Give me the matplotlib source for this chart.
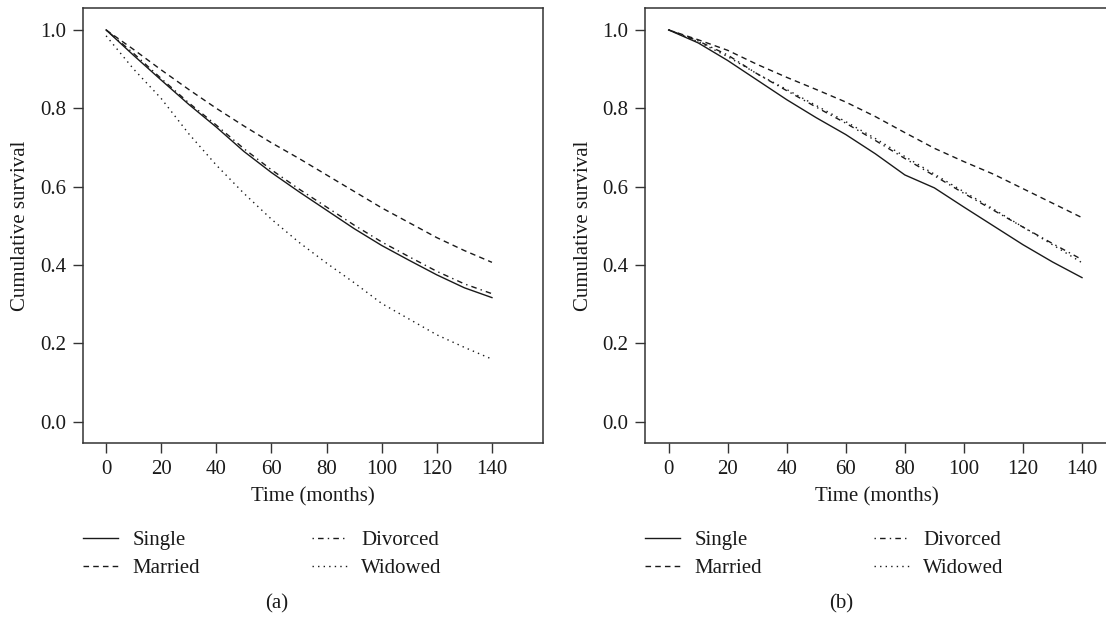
import numpy as np
import matplotlib
matplotlib.use("Agg")
import matplotlib.pyplot as plt

plt.rcParams['font.family'] = ['Liberation Serif', 'DejaVu Serif']

# survival, every 10 months
months = [0, 10, 20, 30, 40, 50, 60, 70, 80, 90, 100, 110, 120, 130, 140]
groups = ["Single", "Married", "Divorced", "Widowed"]

# panel (a)
single_a   = [1.0, 0.935, 0.872, 0.810, 0.752, 0.690, 0.636, 0.587, 0.540, 0.493, 0.450, 0.412, 0.375, 0.342, 0.317]
married_a  = [1.0, 0.950, 0.898, 0.848, 0.800, 0.755, 0.712, 0.672, 0.630, 0.588, 0.546, 0.508, 0.470, 0.437, 0.407]
divorced_a = [1.0, 0.940, 0.876, 0.814, 0.757, 0.697, 0.643, 0.594, 0.548, 0.502, 0.459, 0.421, 0.384, 0.352, 0.327]
widowed_a  = [0.985, 0.900, 0.825, 0.735, 0.655, 0.583, 0.517, 0.458, 0.405, 0.355, 0.302, 0.262, 0.222, 0.190, 0.160]

# panel (b)
single_b   = [1.0, 0.967, 0.922, 0.872, 0.822, 0.776, 0.733, 0.684, 0.630, 0.597, 0.548, 0.500, 0.452, 0.408, 0.368]
married_b  = [1.0, 0.975, 0.948, 0.912, 0.879, 0.848, 0.816, 0.779, 0.738, 0.698, 0.664, 0.632, 0.595, 0.558, 0.521]
divorced_b = [1.0, 0.972, 0.936, 0.888, 0.845, 0.803, 0.762, 0.718, 0.672, 0.628, 0.583, 0.540, 0.497, 0.455, 0.414]
widowed_b  = [1.0, 0.970, 0.932, 0.888, 0.848, 0.807, 0.766, 0.723, 0.677, 0.632, 0.587, 0.543, 0.497, 0.452, 0.406]

styles = ["-", (0, (4, 3)), (0, (1, 3, 4, 3)), (0, (1, 3))]
ink = "#1a1a1a"
fs = 15

fig = plt.figure(figsize=(11.06, 6.2), dpi=100)
ax1 = fig.add_axes([0.0750, 0.2855, 0.4159, 0.7016])
ax2 = fig.add_axes([0.5832, 0.2855, 0.4186, 0.7016])

panels = [
    (ax1, [single_a, married_a, divorced_a, widowed_a], (-8.4, 158.5), "(a)", 277),
    (ax2, [single_b, married_b, divorced_b, widowed_b], (-8.0, 148.8), "(b)", 841),
]

for ax, series, xlim, tag, tag_x in panels:
    for name, vals, ls in zip(groups, series, styles):
        ax.plot(months, vals, color=ink, lw=1.0, linestyle=ls, label=name)
    ax.set_xlim(*xlim)
    ax.set_ylim(-0.054, 1.056)
    ax.set_xticks(range(0, 141, 20))
    ax.set_yticks([0.0, 0.2, 0.4, 0.6, 0.8, 1.0])
    ax.set_yticklabels(["0.0", "0.2", "0.4", "0.6", "0.8", "1.0"])
    ax.tick_params(direction="out", length=7, width=1.0, color="#333333",
                   labelsize=fs, labelcolor=ink, pad=5)
    for s in ax.spines.values():
        s.set_linewidth(1.1)
        s.set_color("#333333")
    ax.set_xlabel("Time (months)", fontsize=fs, color=ink, labelpad=6)
    ax.set_ylabel("Cumulative survival", fontsize=fs, color=ink, labelpad=7)
    ax.legend(loc="upper left", bbox_to_anchor=(0, -0.202), ncol=2, frameon=False,
              fontsize=fs, borderpad=0, borderaxespad=0, handlelength=1.7,
              handletextpad=0.68, columnspacing=5.35, labelspacing=0.4,
              labelcolor=ink)
    fig.text(tag_x / 1106, 1 - 604 / 620, tag, ha="center", va="center",
             fontsize=fs, color=ink)

fig.savefig("out.png", dpi=100)
